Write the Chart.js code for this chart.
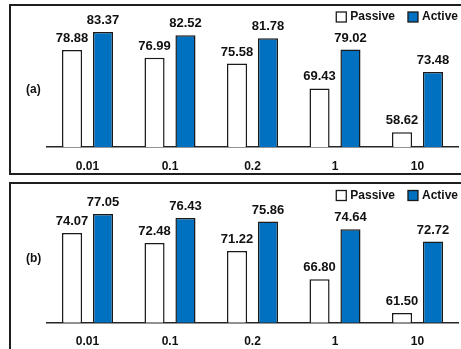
<!DOCTYPE html>
<html><head><meta charset="utf-8">
<script src="https://cdn.jsdelivr.net/npm/chart.js@4"></script>
<style>
html,body{margin:0;padding:0;background:#fff;width:461px;height:349px;overflow:hidden;position:relative;font-family:"Liberation Sans",Arial,sans-serif;}
.panel{position:absolute;left:9px;width:480px;border:2px solid #1e1e1e;box-sizing:border-box;}
#pa{top:4px;height:171px;}
#pb{top:182px;height:200px;}
canvas{position:absolute;left:0;}
#ca{top:0}
#cb{top:175px}
.tag{position:absolute;font-weight:bold;font-size:12px;line-height:14px;color:#111;}
</style></head><body>
<div class="panel" id="pa"></div><div class="panel" id="pb"></div>
<canvas id="ca" width="461" height="175"></canvas>
<canvas id="cb" width="461" height="174"></canvas>
<div class="tag" style="left:26px;top:82px">(a)</div>
<div class="tag" style="left:26px;top:251px">(b)</div>
<script>
const categories = ['0.01', '0.1', '0.2', '1', '10'];
const seriesNames = ['Passive', 'Active'];
const passiveA = [78.88, 76.99, 75.58, 69.43, 58.62];
const activeA = [83.37, 82.52, 81.78, 79.02, 73.48];
const passiveB = [74.07, 72.48, 71.22, 66.80, 61.50];
const activeB = [77.05, 76.43, 75.86, 74.64, 72.72];
const rangeA = [55, 90];
const rangeB = [60, 82];

const FONT = '"Liberation Sans", Arial, sans-serif';
const INK = '#111111';
const EDGE = '#1a1a1a';
const BLUE = '#0070C0';

const valueLabels = {
  id: 'valueLabels',
  afterDatasetsDraw(chart) {
    const ctx = chart.ctx;
    ctx.save();
    ctx.font = 'bold 13px ' + FONT;
    ctx.fillStyle = INK;
    ctx.textAlign = 'center';
    ctx.textBaseline = 'alphabetic';
    chart.data.datasets.forEach((ds, i) => {
      chart.getDatasetMeta(i).data.forEach((el, j) => {
        ctx.fillText(Number(ds.data[j]).toFixed(2), el.x, el.y - 8);
      });
    });
    ctx.restore();
  }
};

const boxLegend = {
  id: 'boxLegend',
  afterDraw(chart, args, opts) {
    const ctx = chart.ctx;
    ctx.save();
    ctx.font = 'bold 12px ' + FONT;
    ctx.textBaseline = 'middle';
    ctx.textAlign = 'left';
    let x = opts.right;
    const y = opts.y;
    const dss = chart.data.datasets.slice().reverse();
    dss.forEach(ds => {
      const w = ctx.measureText(ds.label).width;
      const tx = x - w;
      ctx.fillStyle = INK;
      ctx.fillText(ds.label, tx, y);
      const br = tx - 4, bl = br - 10;
      ctx.fillStyle = ds.backgroundColor;
      ctx.fillRect(bl, y - 5, 10, 10);
      ctx.strokeStyle = EDGE;
      ctx.lineWidth = 1.3;
      ctx.strokeRect(bl, y - 5, 10, 10);
      x = bl - 13;
    });
    ctx.restore();
  }
};

function make(id, passive, active, range, padTop, axisH, legendY) {
  return new Chart(document.getElementById(id), {
    type: 'bar',
    data: {
      labels: categories,
      datasets: [
        { label: seriesNames[0], data: passive, backgroundColor: '#ffffff', borderColor: EDGE, borderWidth: 1.5,
          barPercentage: 0.65, categoryPercentage: 0.75 },
        { label: seriesNames[1], data: active, backgroundColor: BLUE, borderColor: EDGE, borderWidth: 1.5,
          barPercentage: 0.65, categoryPercentage: 0.75 }
      ]
    },
    options: {
      responsive: false,
      animation: false,
      devicePixelRatio: 1,
      layout: { padding: { left: 46.25, right: 2.25, top: padTop, bottom: 0 } },
      plugins: {
        legend: { display: false },
        tooltip: { enabled: false },
        boxLegend: { right: 458, y: legendY }
      },
      scales: {
        x: {
          grid: { display: false, drawTicks: false },
          border: { display: true, color: '#262626', width: 1.5 },
          ticks: { color: INK, padding: 12, font: { family: FONT, size: 12, weight: 'bold' } },
          afterFit: (s) => { s.height = axisH; }
        },
        y: { display: false, min: range[0], max: range[1] }
      }
    },
    plugins: [valueLabels, boxLegend]
  });
}

make('ca', passiveA, activeA, rangeA, 5, 28, 17);
make('cb', passiveB, activeB, rangeB, 7.5, 26.5, 20.5);
</script>
</body></html>
